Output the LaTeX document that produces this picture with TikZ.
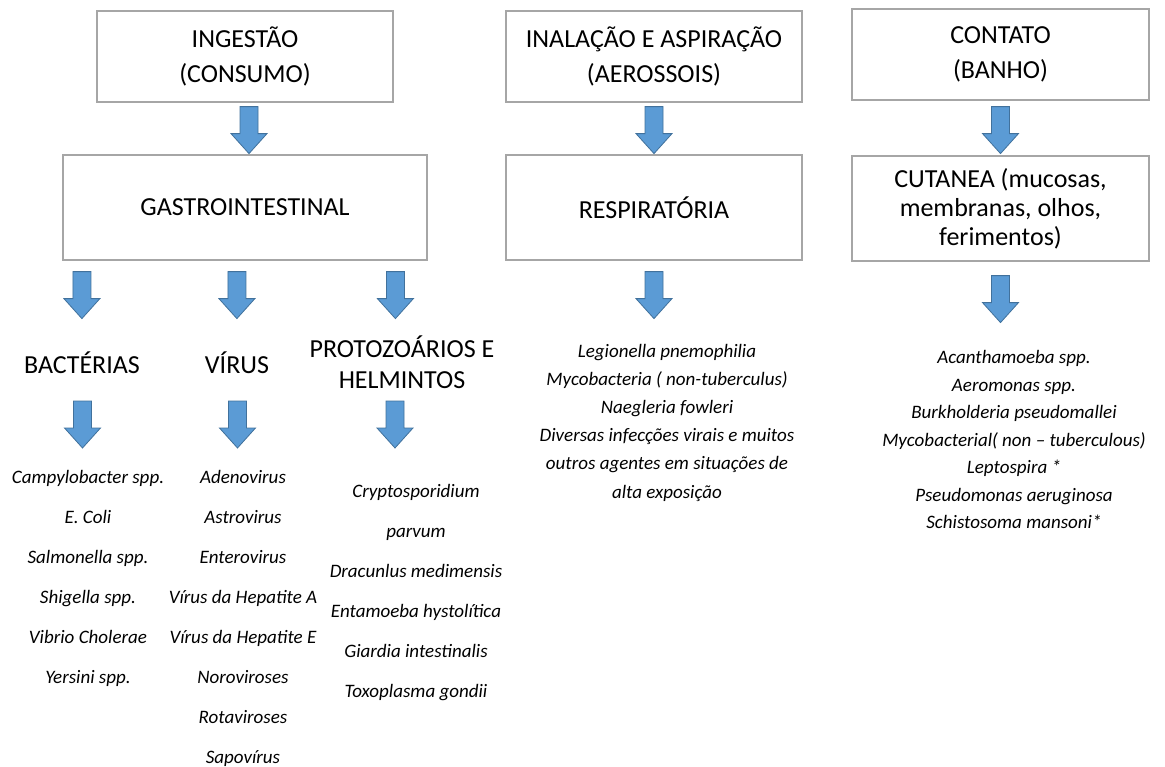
\documentclass[tikz,border=0pt]{standalone}
\usepackage{fontspec}
\setmainfont{Carlito}
\usetikzlibrary{calc}
\definecolor{arrowfill}{HTML}{5B9BD5}
\definecolor{arrowline}{HTML}{41719C}
\definecolor{boxline}{HTML}{A6A6A6}
\begin{document}
\begin{tikzpicture}[x=1pt,y=-1pt,
  boxnode/.style={draw=boxline, line width=1.2pt, fill=white, align=center, inner sep=0pt, font=\fontsize{26}{35}\selectfont},
  headlabel/.style={align=center, inner sep=0pt, font=\fontsize{26}{31}\selectfont},
  listnode/.style={align=center, inner sep=0pt, font=\itshape\fontsize{19}{40}\selectfont},
  barrow/.pic={\draw[fill=arrowfill, draw=arrowline, line width=0.8pt] (-9,0) -- (9,0) -- (9,27) -- (18,27) -- (0,47) -- (-18,27) -- (-9,27) -- cycle;}
]
\useasboundingbox (0,0) rectangle (1165,766);

% top boxes
\node[boxnode, minimum width=296pt, minimum height=91pt] (ing) at (245,56.5) {INGESTÃO\\(CONSUMO)};
\node[boxnode, minimum width=296pt, minimum height=91pt] (inal) at (654,56.5) {INALAÇÃO E ASPIRAÇÃO\\(AEROSSOIS)};
\node[boxnode, minimum width=297pt, minimum height=91pt] (cont) at (1000.5,54.5) {CONTATO\\(BANHO)};

% second boxes
\node[boxnode, minimum width=364pt, minimum height=105pt] (gast) at (245,207.5) {GASTROINTESTINAL};
\node[boxnode, minimum width=296pt, minimum height=105pt] (resp) at (654,207.5) {RESPIRATÓRIA};
\node[boxnode, minimum width=297pt, minimum height=105pt, font=\fontsize{26}{29}\selectfont] (cut) at (1000.5,208.5) {CUTANEA (mucosas,\\membranas, olhos,\\ferimentos)};

% arrows between boxes
\pic at ($(ing.south)+(4,4)$) {barrow};
\pic at ($(inal.south)+(0,4)$) {barrow};
\pic at ($(cont.south)+(0,6)$) {barrow};

% category labels
\node[headlabel] (bact) at (82,363) {BACTÉRIAS};
\node[headlabel] (vir) at (237,363) {VÍRUS};
\node[headlabel] (prot) at (402,362) {PROTOZOÁRIOS E\\HELMINTOS};

% arrows from gastro box
\pic at ($(gast.south west)+(19.5,11)$) {barrow};
\pic at ($(gast.south west)+(174.5,11)$) {barrow};
\pic at ($(gast.south west)+(333,11)$) {barrow};
\pic at ($(resp.south)+(0,11)$) {barrow};
\pic at ($(cut.south)+(0,14)$) {barrow};

% arrows from labels
\pic at ($(bact.center)+(0.5,38)$) {barrow};
\pic at ($(vir.center)+(0.5,38)$) {barrow};
\pic at ($(prot.center)+(-7,39)$) {barrow};

% lists
\node[listnode] (bl) at (88,578) {Campylobacter spp.\\E. Coli\\Salmonella spp.\\Shigella spp.\\Vibrio Cholerae\\Yersini spp.};
\node[listnode] (vl) at (243,618) {Adenovirus\\Astrovirus\\Enterovirus\\Vírus da Hepatite A\\Vírus da Hepatite E\\Noroviroses\\Rotaviroses\\Sapovírus};
\node[listnode] (pl) at (416,593) {Cryptosporidium\\parvum\\Dracunlus medimensis\\Entamoeba hystolítica\\Giardia intestinalis\\Toxoplasma gondii};
\node[listnode, font=\itshape\fontsize{19}{28.2}\selectfont] (rl) at (667,422.5) {Legionella pnemophilia\\Mycobacteria ( non-tuberculus)\\Naegleria fowleri\\Diversas infecções virais e muitos\\outros agentes em situações de\\alta exposição};
\node[listnode, font=\itshape\fontsize{19}{27.5}\selectfont] (cl) at (1014,439.5) {Acanthamoeba spp.\\Aeromonas spp.\\Burkholderia pseudomallei\\Mycobacterial( non – tuberculous)\\Leptospira *\\Pseudomonas aeruginosa\\Schistosoma mansoni*};
\end{tikzpicture}
\end{document}
